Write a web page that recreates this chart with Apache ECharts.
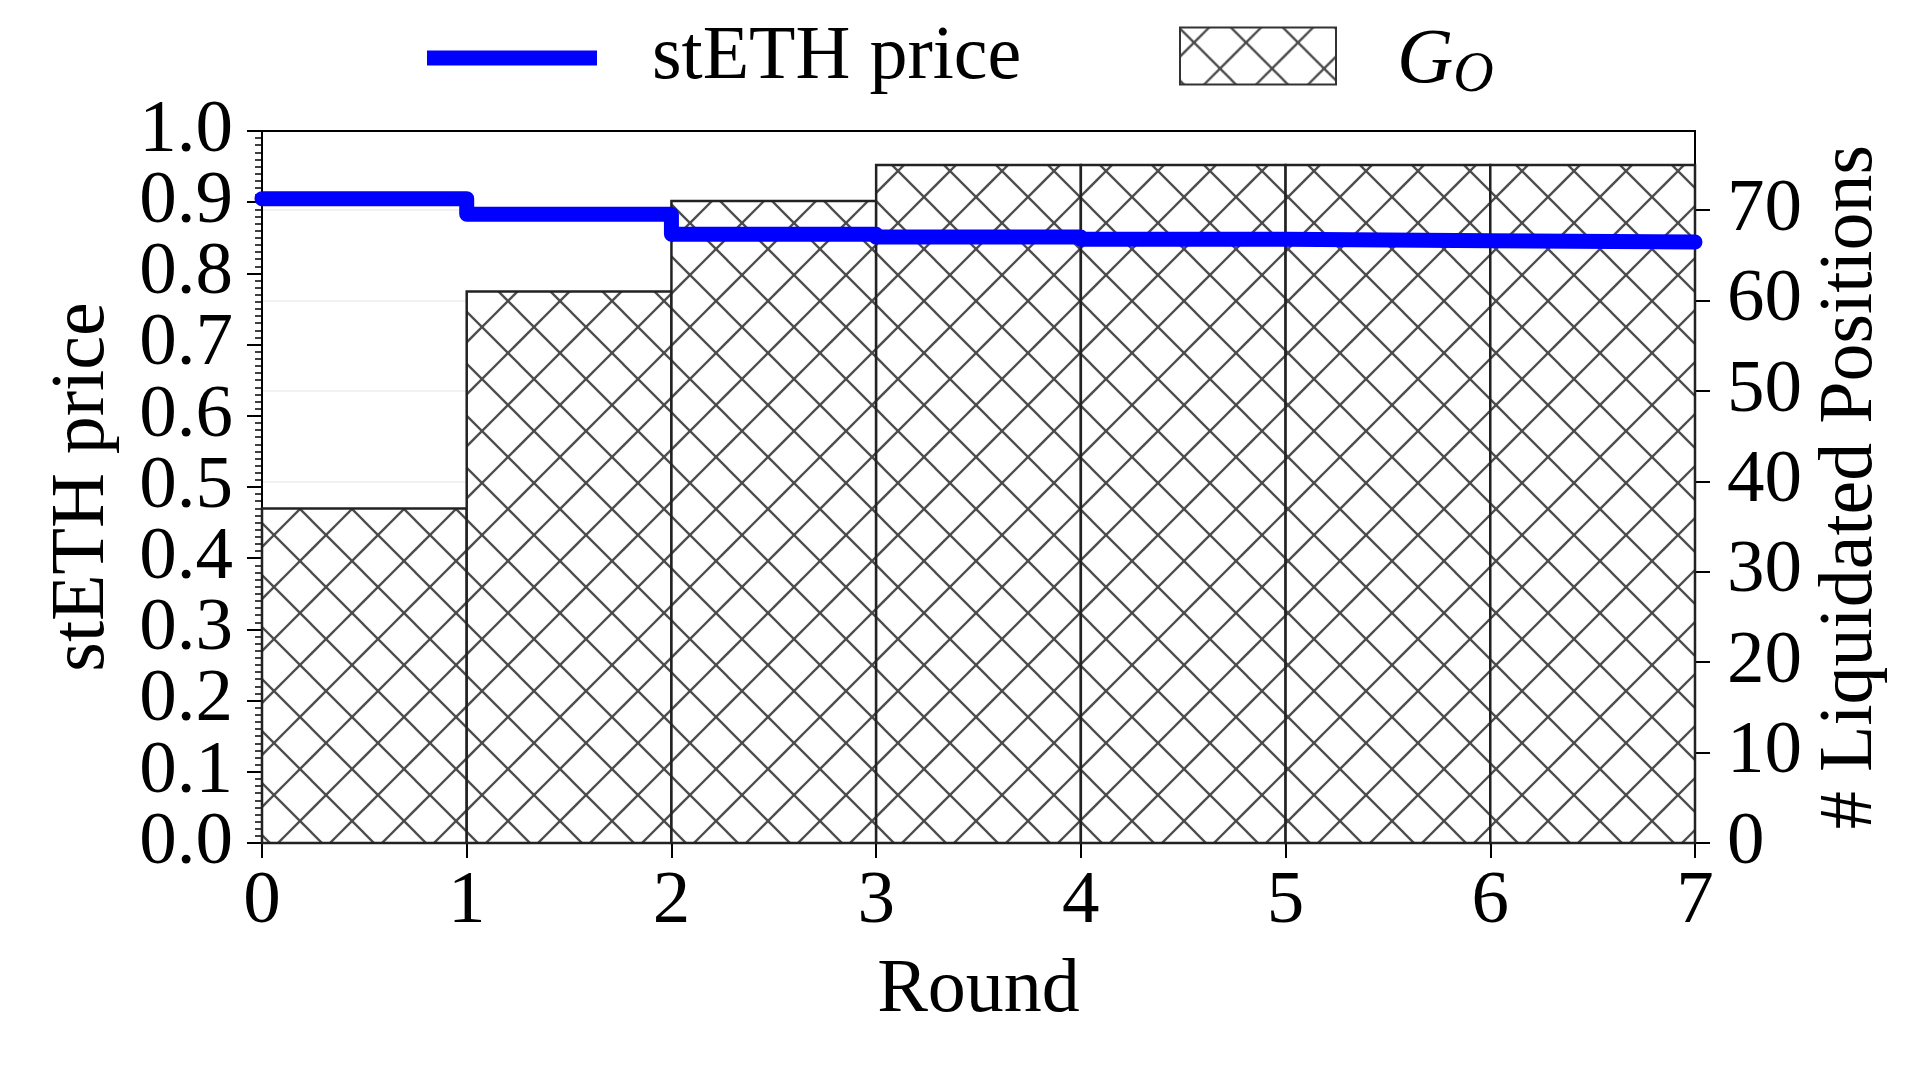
<!DOCTYPE html>
<html>
<head>
<meta charset="utf-8">
<script src="https://cdn.jsdelivr.net/npm/echarts@6/dist/echarts.min.js"></script>
<style>
html,body{margin:0;padding:0;background:#fff;}
#chart{width:1920px;height:1072px;}
</style>
</head>
<body>
<div id="chart"></div>
<script>
// ---- data ----
const rounds = [0, 1, 2, 3, 4, 5, 6, 7];
const priceValues = [0.905, 0.883, 0.855, 0.851, 0.848, 0.846, 0.844, 0.844];
const liquidatedValues = [37, 61, 71, 75, 75, 75, 75];
const xTicks = [0, 1, 2, 3, 4, 5, 6, 7];
const leftTicksEven = [0, 0.2, 0.4, 0.6, 0.8, 1.0];
const leftTicksOdd = [0.1, 0.3, 0.5, 0.7, 0.9];
const rightTicks = [0, 10, 20, 30, 40, 50, 60, 70];

// ---- hatch pattern ----
function makeHatch() {
  const size = 52;
  const c = document.createElement('canvas');
  c.width = size; c.height = size;
  const g = c.getContext('2d');
  g.fillStyle = '#ffffff';
  g.fillRect(0, 0, size, size);
  g.strokeStyle = '#4d4d4d';
  g.lineWidth = 2.3;
  const cx = 40, cy = 41;
  for (let k = -4; k <= 4; k++) {
    g.beginPath();
    g.moveTo(cx + size * k - 150, cy - 150);
    g.lineTo(cx + size * k + 150, cy + 150);
    g.stroke();
    g.beginPath();
    g.moveTo(cx + size * k - 150, cy + 150);
    g.lineTo(cx + size * k + 150, cy - 150);
    g.stroke();
  }
  return c;
}
const hatch = { image: makeHatch(), repeat: 'repeat' };

const FONT = 'Liberation Serif';
const barData = liquidatedValues.map((v, i) => [rounds[i], rounds[i + 1], v]);
const lineData = rounds.map((x, i) => [x, priceValues[i]]);

const labelBase = { fontFamily: FONT, fontSize: 75, color: '#000' };

const chart = echarts.init(document.getElementById('chart'), null, { renderer: 'canvas' });
chart.setOption({
  animation: false,
  backgroundColor: '#fff',
  grid: { left: 262, right: 225, top: 131, bottom: 229, show: true, borderColor: '#000', borderWidth: 2, backgroundColor: 'transparent' },
  legend: [
    {
      data: [{ name: 'stETH price', icon: 'rect' }],
      left: 422, top: 15, itemWidth: 170, itemHeight: 15,
      textStyle: { fontFamily: FONT, fontSize: 76, color: '#000', padding: [8, 0, 0, 50] },
      selectedMode: false
    },
    {
      data: [{ name: 'G_O', icon: 'rect', itemStyle: { color: hatch, borderColor: '#333', borderWidth: 2 } }],
      left: 1174, top: 17, itemWidth: 156, itemHeight: 57,
      formatter: () => '{g|G}{s|O}',
      textStyle: {
        fontFamily: FONT, fontSize: 76, color: '#000', padding: [10, 0, 0, 56],
        rich: {
          g: { fontFamily: FONT, fontSize: 78, fontStyle: 'italic', color: '#000' },
          s: { fontFamily: FONT, fontSize: 56, fontStyle: 'italic', color: '#000', padding: [30, 0, 0, 0] }
        }
      },
      selectedMode: false
    }
  ],
  xAxis: {
    type: 'value', min: 0, max: 7, interval: 1,
    name: 'Round', nameLocation: 'middle', nameGap: 110,
    nameTextStyle: { fontFamily: FONT, fontSize: 76, color: '#000' },
    axisLine: { show: true, lineStyle: { color: '#000', width: 2 } },
    axisTick: { show: true, length: 15, lineStyle: { color: '#000', width: 2 } },
    axisLabel: Object.assign({}, labelBase, { margin: 22, customValues: xTicks,
      showMinLabel: true, showMaxLabel: true, formatter: v => String(v) }),
    splitLine: { show: false }
  },
  yAxis: [
    {
      type: 'value', min: 0, max: 1, interval: 0.1, position: 'left',
      name: 'stETH price', nameLocation: 'middle', nameGap: 141,
      nameTextStyle: { fontFamily: FONT, fontSize: 76, color: '#000' },
      axisLine: { show: true, lineStyle: { color: '#000', width: 2 } },
      axisTick: { show: true, length: 15, lineStyle: { color: '#000', width: 2 } },
      minorTick: { show: true, splitNumber: 10, length: 7, lineStyle: { color: '#000', width: 1.5 } },
      axisLabel: Object.assign({}, labelBase, { margin: 29, customValues: leftTicksEven,
        showMinLabel: true, showMaxLabel: true, formatter: v => v.toFixed(1) }),
      splitLine: { show: false }
    },
    {
      type: 'value', min: 0, max: 78.75, interval: 10, position: 'right',
      name: '# Liquidated Positions', nameLocation: 'middle', nameGap: 107,
      nameTextStyle: { fontFamily: FONT, fontSize: 76, color: '#000' },
      axisLine: { show: true, lineStyle: { color: '#000', width: 2 } },
      axisTick: { show: true, length: 15, lineStyle: { color: '#000', width: 2 }, customValues: rightTicks },
      axisLabel: Object.assign({}, labelBase, { margin: 32, customValues: rightTicks,
        showMinLabel: true, showMaxLabel: true, formatter: v => String(v) }),
      splitLine: { show: true, lineStyle: { color: '#ececec', width: 1.5 } }
    },
    {
      type: 'value', min: 0, max: 1, interval: 0.1, position: 'left', offset: 0,
      axisLine: { show: false }, axisTick: { show: false }, splitLine: { show: false },
      axisLabel: Object.assign({}, labelBase, { margin: 29, customValues: leftTicksOdd,
        showMinLabel: true, showMaxLabel: true, formatter: v => v.toFixed(1) })
    }
  ],
  series: [
    {
      name: 'G_O',
      type: 'custom',
      xAxisIndex: 0, yAxisIndex: 1,
      encode: { x: [0, 1], y: 2 },
      itemStyle: { color: hatch, borderColor: '#222', borderWidth: 2.5 },
      data: barData,
      renderItem: function (params, api) {
        const p0 = api.coord([api.value(0), 0]);
        const p1 = api.coord([api.value(1), api.value(2)]);
        return {
          type: 'rect',
          shape: { x: p0[0], y: p1[1], width: p1[0] - p0[0], height: p0[1] - p1[1] },
          style: { fill: hatch, stroke: '#222', lineWidth: 2.5 }
        };
      },
      z: 2
    },
    {
      name: 'stETH price',
      type: 'line',
      xAxisIndex: 0, yAxisIndex: 0,
      step: 'end',
      showSymbol: false,
      data: lineData,
      itemStyle: { color: '#0000ff' },
      lineStyle: { color: '#0000ff', width: 15, cap: 'round', join: 'round' },
      clip: true,
      z: 3
    }
  ]
});
</script>
</body>
</html>
